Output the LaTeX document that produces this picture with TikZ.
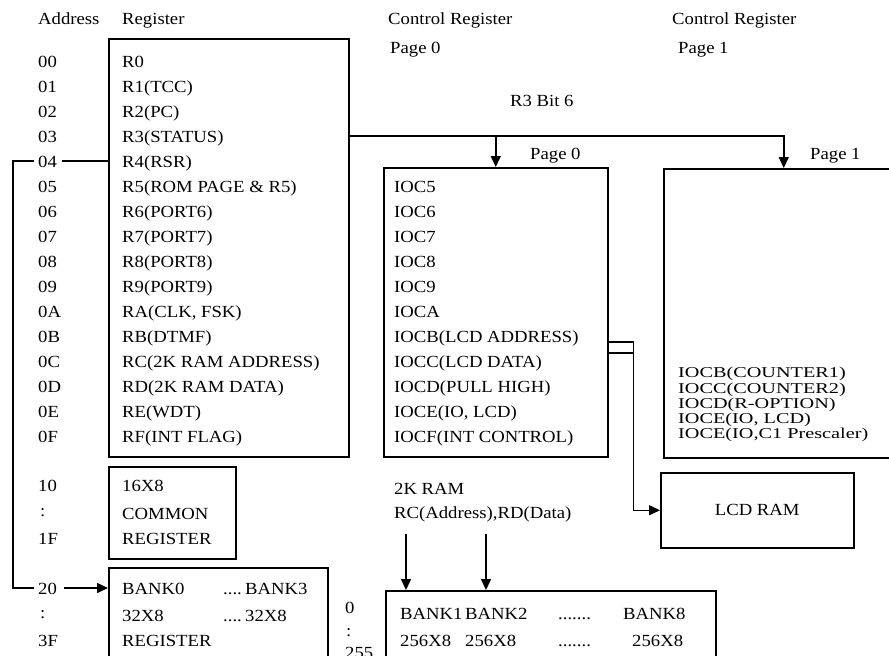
\documentclass[tikz,border=0pt]{standalone}
\usepackage{fontspec}
\setmainfont{Liberation Serif}[FakeStretch=1.1]
\usetikzlibrary{arrows.meta,positioning,calc}
\tikzset{
    box/.style={draw, line width=1.5pt, rectangle, anchor=north west, inner sep=0pt},
    lbl/.style={anchor=west, inner sep=0pt, text height=12pt, text depth=0pt},
    small/.style={lbl, font=\fontsize{15}{17}\selectfont\addfontfeature{FakeStretch=1.35}, text height=10pt},
    wire/.style={line width=1.5pt},
    bus/.style={-{Triangle[length=11pt, width=10pt]}, line width=1.5pt}
}

\begin{document}
\begin{tikzpicture}[x=1pt, y=-1pt, font=\fontsize{17}{20}\selectfont]
    \clip (0,0) rectangle (889,656);
    % boxes
    \node[box, minimum width=240pt, minimum height=418pt] (reg) at (108,38) {};
    \node[box, minimum width=127pt, minimum height=92pt] (common) at (108,466) {};
    \node[box, minimum width=219pt, minimum height=100pt] (bank) at (108,567) {};
    \node[box, minimum width=224pt, minimum height=289pt] (mid) at (383,167) {};
    \node[box, minimum width=240pt, minimum height=289pt] (pg1) at (663,168) {};
    \node[box, minimum width=193pt, minimum height=75pt] (lcd) at (660,472) {};
    \node[box, minimum width=330pt, minimum height=100pt] (ram) at (385,590) {};

    % headings
    \node[lbl] (adrhead) at (38,18) {Address};
    \node[lbl] (reghead) at (122,18) {Register};
    \node[lbl] (ctl0) at (388,18) {Control Register};
    \node[lbl] (ctl0pg) at (390,47) {Page 0};
    \node[lbl] (ctl1) at (672,18) {Control Register};
    \node[lbl] (ctl1pg) at (678,47) {Page 1};
    \node[lbl] (bit) at (510,100) {R3 Bit 6};
    \node[lbl] (midpg) at (530,153) {Page 0};
    \node[lbl] (pg1pg) at (810,153) {Page 1};

    % register file
    \foreach \adr/\rn [count=\i from 0] in {00/R0, 01/R1(TCC), 02/R2(PC), 03/R3(STATUS), 04/R4(RSR),
        05/R5(ROM PAGE \& R5), 06/R6(PORT6), 07/R7(PORT7), 08/R8(PORT8), 09/R9(PORT9),
        0A/{RA(CLK, FSK)}, 0B/RB(DTMF), 0C/RC(2K RAM ADDRESS), 0D/RD(2K RAM DATA),
        0E/RE(WDT), 0F/RF(INT FLAG)}{
        \node[lbl] (a\adr) at (38,{61+25*\i}) {\adr};
        \node[lbl] (r\adr) at (122,{61+25*\i}) {\rn};
    }
    \foreach \t [count=\i from 5] in {IOC5, IOC6, IOC7, IOC8, IOC9, IOCA, IOCB(LCD ADDRESS),
        IOCC(LCD DATA), IOCD(PULL HIGH), {IOCE(IO, LCD)}, IOCF(INT CONTROL)}
        \node[lbl] (ioc\i) at (394,{61+25*\i}) {\t};
    \foreach \t/\y [count=\i] in {IOCB(COUNTER1)/372, IOCC(COUNTER2)/388, IOCD(R-OPTION)/403,
        {IOCE(IO, LCD)}/418, {IOCE(IO,C1 Prescaler)}/433}
        \node[small] (iocp\i) at (678,\y) {\t};

    % common and banked registers
    \node[lbl] (a10) at (38,485) {10};
    \node[lbl] (a1x) at (40,510) {:};
    \node[lbl] (a1F) at (38,538) {1F};
    \node[lbl] (c1) at (122,485) {16X8};
    \node[lbl] (c2) at (122,513) {COMMON};
    \node[lbl] (c3) at (122,538) {REGISTER};
    \node[lbl] (a20) at (38,588) {20};
    \node[lbl] (a2x) at (40,612) {:};
    \node[lbl] (a3F) at (38,640) {3F};
    \node[lbl] (b1) at (122,588) {BANK0};
    \node[lbl] (b2) at (223,588) {....};
    \node[lbl] (b3) at (245,588) {BANK3};
    \node[lbl] (b4) at (122,615) {32X8};
    \node[lbl] (b5) at (223,615) {....};
    \node[lbl] (b6) at (245,615) {32X8};
    \node[lbl] (b7) at (122,640) {REGISTER};

    % 2K RAM
    \node[lbl] (ramhead) at (394,488) {2K RAM};
    \node[lbl] (ramsel) at (394,512) {RC(Address),RD(Data)};
    \node[lbl] (m0) at (345,607) {0};
    \node[lbl] (mx) at (346,630) {:};
    \node[lbl] (mF) at (345,652) {255};
    \node[lbl] (k1) at (400,613) {BANK1};
    \node[lbl] (k2) at (465,613) {BANK2};
    \node[lbl] (k3) at (558,613) {.......};
    \node[lbl] (k4) at (623,613) {BANK8};
    \node[lbl] (s1) at (400,640) {256X8};
    \node[lbl] (s2) at (465,640) {256X8};
    \node[lbl] (s3) at (558,640) {.......};
    \node[lbl] (s4) at (632,640) {256X8};
    \node (lcdtxt) at (lcd.center) {LCD RAM};

    % connectors
    \draw[wire] ([xshift=5pt]a04.east) -- (a04 -| reg.west);
    \draw[wire] ([xshift=-4pt]a04.west) -- ++(-21,0) |- ([xshift=-4pt]a20.west);
    \draw[bus] ([xshift=7pt]a20.east) -- (a20 -| bank.west);
    \draw[bus] (reg.east |- r03) -| (pg1.north);
    \draw[bus] (mid.north |- r03) -- (mid.north);
    \draw[bus] ($(mid.east |- ioc11)+(0,6)$) -- ++(25,0) |- (lcd.west);
    \draw[wire] ($(mid.east |- ioc12)+(0,-8)$) -- ++(25,0);
    \coordinate (adr) at (406,534);
    \coordinate (dat) at (486,534);
    \draw[bus] (adr) -- (adr |- ram.north);
    \draw[bus] (dat) -- (dat |- ram.north);
\end{tikzpicture}
\end{document}
